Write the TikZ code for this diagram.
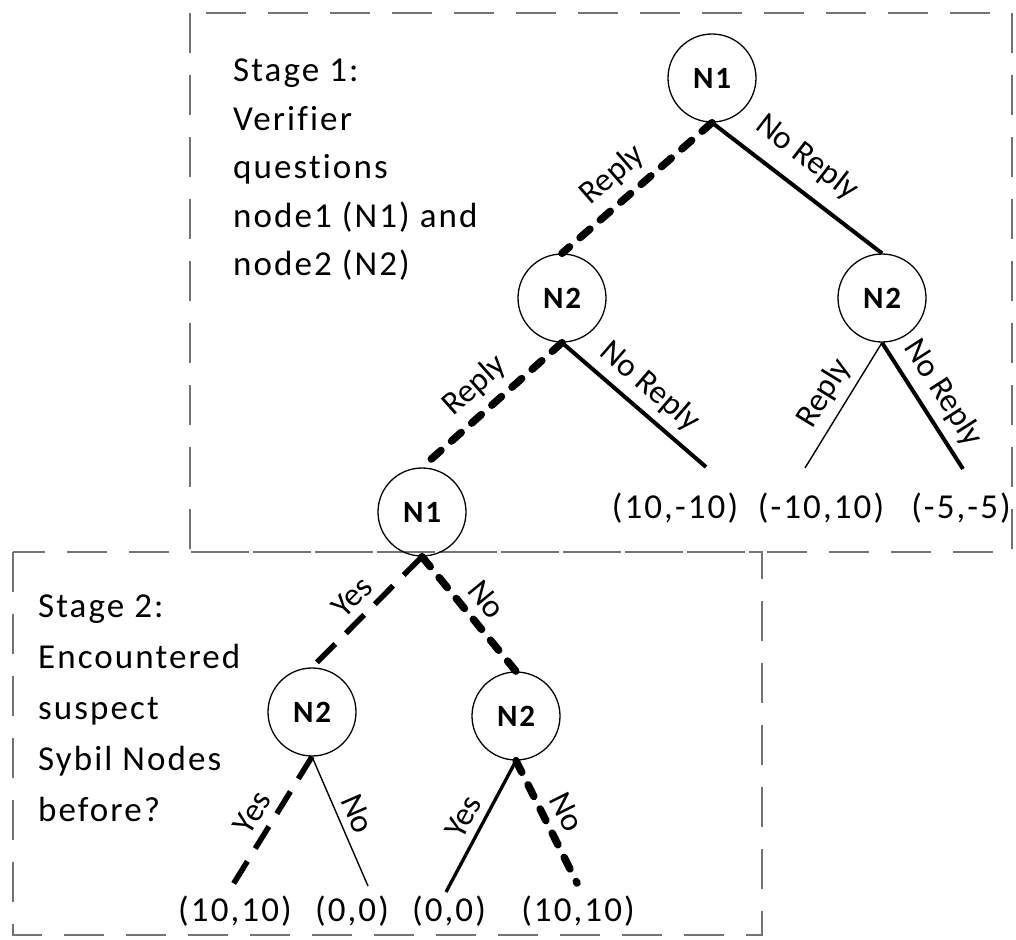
\documentclass[tikz,border=0pt]{standalone}
\usepackage{fontspec}
\setmainfont{Carlito}[LetterSpace=6, Ligatures={NoCommon}]
\newfontfamily\edgefont{Carlito}[Ligatures={NoCommon}]
\begin{document}
\begin{tikzpicture}[x=1pt,y=-1pt,
  dec/.style={circle, draw, line width=1.3pt, minimum size=88pt, inner sep=0pt, font=\fontsize{31}{36}\selectfont\bfseries},
  lbl/.style={sloped, above, inner sep=8pt, font=\edgefont\fontsize{33}{36}\selectfont},
  pay/.style={inner sep=0pt, font=\fontsize{35}{40}\selectfont},
  stagetext/.style={anchor=north west, inner sep=0pt, align=left},
  stagebox/.style={draw=black!55, line width=2.6pt, dash pattern=on 40pt off 22pt},
  dotline/.style={line width=7.5pt, line cap=round, dash pattern=on 13pt off 14pt},
  longdash/.style={line width=5.5pt, dash pattern=on 26pt off 15pt},
  thickline/.style={line width=4pt},
  midline/.style={line width=3.3pt},
  thinline/.style={line width=1.4pt}]
\useasboundingbox (0,0) rectangle (1016,939);

% stage boxes
\draw[stagebox] (190,13) rectangle (1012,552);
\draw[stagebox] (13,552) rectangle (762,935);

% stage texts
\node[stagetext, font=\fontsize{35}{48.5}\selectfont] (s1) at (233,59)
  {Stage 1:\\Verifier\\questions\\node1 (N1) and\\node2 (N2)};
\node[stagetext, font=\fontsize{35}{51}\selectfont] (s2) at (38,595)
  {Stage 2:\\Encountered\\suspect\\Sybil Nodes\\before?};

% decision nodes
\node[dec] (n1a) at (712,78) {N1};
\node[dec] (n2a) at (562,298) {N2};
\node[dec] (n2b) at (882,298) {N2};
\node[dec] (n1b) at (422,512) {N1};
\node[dec] (n2c) at (312,712) {N2};
\node[dec] (n2d) at (516,716) {N2};

% leaf end points
\coordinate (e1) at (706,467);
\coordinate (e2) at (805,468);
\coordinate (e3) at (963,469);
\coordinate (e4) at (229,891);
\coordinate (e5) at (368,886);
\coordinate (e6) at (446,892);
\coordinate (e7) at (577,883);

% payoffs
\node[pay] (p1) at (675,508) {(10,-10)};
\node[pay] (p2) at (821,508) {(-10,10)};
\node[pay] (p3) at (961,508) {(-5,-5)};
\node[pay] (p4) at (235,911) {(10,10)};
\node[pay] (p5) at (352,911) {(0,0)};
\node[pay] (p6) at (449,911) {(0,0)};
\node[pay] (p7) at (578,911) {(10,10)};

% stage 1 edges
\draw[dotline] (n1a.south) -- node[lbl, pos=0.55] {Reply} (n2a.north);
\draw[thickline] (n1a.south) -- node[lbl, inner sep=14pt, pos=0.45] {No Reply} (n2b.north);
\draw[dotline] (n2a.south) -- node[lbl] {Reply} (n1b.north);
\draw[thickline] (n2a.south) -- node[lbl] {No Reply} (e1);
\draw[thinline] (n2b.south) -- node[lbl] {Reply} (e2);
\draw[thickline] (n2b.south) -- node[lbl] {No Reply} (e3);

% stage 2 edges
\draw[longdash] (n1b.south) -- node[lbl] {Yes} (n2c.north);
\draw[dotline] (n1b.south) -- node[lbl] {No} (n2d.north);
\draw[longdash] (n2c.south) -- node[lbl] {Yes} (e4);
\draw[thinline] (n2c.south) -- node[lbl] {No} (e5);
\draw[midline] (n2d.south) -- node[lbl] {Yes} (e6);
\draw[dotline] (n2d.south) -- node[lbl] {No} (e7);
\end{tikzpicture}
\end{document}
